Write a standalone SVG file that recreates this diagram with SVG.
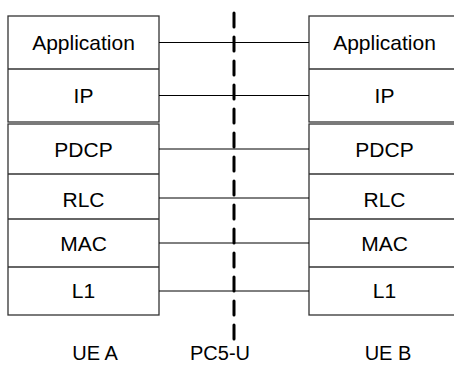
<svg xmlns="http://www.w3.org/2000/svg" width="454" height="365" viewBox="0 0 454 365">
<style>
.box{fill:#fff;stroke:#333;stroke-width:1.3}
.div{stroke:#333;stroke-width:1.3}
.lbl{font-family:"Liberation Sans",Arial,sans-serif;font-size:21px;fill:#000;text-anchor:middle}
.cap{font-family:"Liberation Sans",Arial,sans-serif;font-size:20px;fill:#000;text-anchor:middle}
.conn{stroke:#000;stroke-width:1;fill:none}
</style>
<rect width="454" height="365" fill="#fff"/>
<g id="ueA">
  <g id="ueA-upper">
    <rect class="box" x="8" y="16" width="151" height="106"/>
    <line class="div" x1="8" y1="69" x2="159" y2="69"/>
    <text class="lbl" x="83.5" y="50">Application</text>
    <text class="lbl" x="83.5" y="103">IP</text>
  </g>
  <g id="ueA-lower">
    <rect class="box" x="8" y="124" width="151" height="191"/>
    <line class="div" x1="8" y1="174" x2="159" y2="174"/>
    <line class="div" x1="8" y1="219" x2="159" y2="219"/>
    <line class="div" x1="8" y1="267" x2="159" y2="267"/>
    <text class="lbl" x="83.5" y="156.5">PDCP</text>
    <text class="lbl" x="83.5" y="206.5">RLC</text>
    <text class="lbl" x="83.5" y="250.5">MAC</text>
    <text class="lbl" x="83.5" y="298">L1</text>
  </g>
</g>
<g id="ueB">
  <g id="ueB-upper">
    <rect class="box" x="309" y="16" width="151" height="106"/>
    <line class="div" x1="309" y1="69" x2="460" y2="69"/>
    <text class="lbl" x="384.5" y="50">Application</text>
    <text class="lbl" x="384.5" y="103">IP</text>
  </g>
  <g id="ueB-lower">
    <rect class="box" x="309" y="124" width="151" height="191"/>
    <line class="div" x1="309" y1="174" x2="460" y2="174"/>
    <line class="div" x1="309" y1="219" x2="460" y2="219"/>
    <line class="div" x1="309" y1="267" x2="460" y2="267"/>
    <text class="lbl" x="384.5" y="156.5">PDCP</text>
    <text class="lbl" x="384.5" y="206.5">RLC</text>
    <text class="lbl" x="384.5" y="250.5">MAC</text>
    <text class="lbl" x="384.5" y="298">L1</text>
  </g>
</g>
<g id="connectors">
  <line class="conn" x1="159" y1="42.5" x2="309" y2="42.5"/>
  <line class="conn" x1="159" y1="95.5" x2="309" y2="95.5"/>
  <line class="conn" x1="159" y1="149" x2="309" y2="149"/>
  <line class="conn" x1="159" y1="198" x2="309" y2="198"/>
  <line class="conn" x1="159" y1="243" x2="309" y2="243"/>
  <line class="conn" x1="159" y1="291" x2="309" y2="291"/>
</g>
<g id="pc5u">
  <line x1="234" y1="13" x2="234" y2="339" stroke="#000" stroke-width="3" stroke-dasharray="14 10" stroke-linecap="round"/>
</g>
<g id="labels">
  <text class="cap" x="95" y="360">UE A</text>
  <text class="cap" x="220" y="360">PC5-U</text>
  <text class="cap" x="388" y="360">UE B</text>
</g>
</svg>
